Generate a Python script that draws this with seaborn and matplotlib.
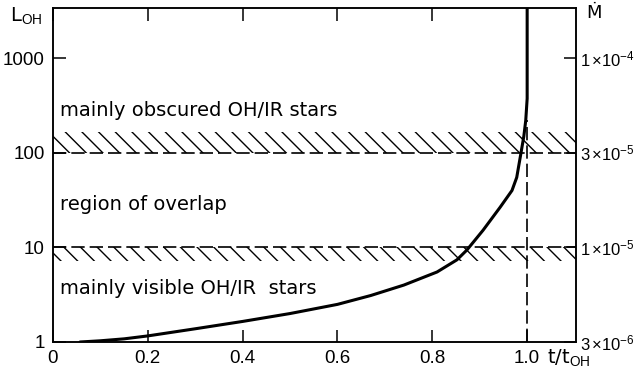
import matplotlib
matplotlib.use("Agg")
import matplotlib.pyplot as plt
import seaborn as sns

# ---- data ----
t_ratio = [0.057, 0.10, 0.15, 0.20, 0.30, 0.40, 0.50, 0.60, 0.67, 0.74, 0.81,
           0.852, 0.873, 0.907, 0.943, 0.968, 0.978, 0.987, 0.993, 0.997, 1.0, 1.0]
L_oh = [1.0, 1.03, 1.08, 1.16, 1.38, 1.65, 2.0, 2.5, 3.1, 4.0, 5.5,
        7.4, 9.4, 15.2, 26.6, 40, 55, 100, 150, 220, 375, 3400]

x_ticks = [0, 0.2, 0.4, 0.6, 0.8, 1.0]
x_labels = ["0", "0.2", "0.4", "0.6", "0.8", "1.0"]
y_ticks = [1, 10, 100, 1000]
y_labels = ["1", "10", "100", "1000"]
mdot_pos = [1, 10, 100, 1000]
mdot_labels = [r"$3\,{\times}10^{-6}$", r"$1\,{\times}10^{-5}$",
               r"$3\,{\times}10^{-5}$", r"$1\,{\times}10^{-4}$"]

upper_band = (100, 165)
lower_band = (7.2, 10)
t_end = 1.0
t_end_top = 220

region_labels = ["mainly obscured OH/IR stars", "region of overlap", "mainly visible OH/IR  stars"]
region_levels = [282, 28.6, 3.7]

xlim = (0, 1.103)
ylim = (1, 3400)

# ---- style ----
sns.set_style("ticks")
plt.rcParams["font.family"] = ["DejaVu Sans"]
plt.rcParams["hatch.linewidth"] = 1.0
plt.rcParams["mathtext.fontset"] = "custom"
plt.rcParams["mathtext.rm"] = "Liberation Sans"
plt.rcParams["mathtext.it"] = "Liberation Sans"
for k in ("text.color", "axes.labelcolor", "xtick.color", "ytick.color", "axes.edgecolor"):
    plt.rcParams[k] = "black"

fig = plt.figure(figsize=(6.35, 3.79), dpi=100)
ax = fig.add_axes([53 / 635, 37 / 379, 523 / 635, 334 / 379])

sns.lineplot(x=t_ratio, y=L_oh, ax=ax, color="black", linewidth=2.2,
             estimator=None, sort=False)

ax.set_yscale("log")
ax.set_xlim(*xlim)
ax.set_ylim(*ylim)

dash = (0, (8, 3))
for lo, hi in (upper_band, lower_band):
    ax.axhspan(lo, hi, facecolor="none", edgecolor="black", hatch="\\\\", linewidth=0)
ax.axhline(upper_band[0], color="black", lw=1.2, ls=dash)
ax.axhline(lower_band[1], color="black", lw=1.2, ls=dash)
ax.vlines(t_end, ylim[0], t_end_top, colors="black", lw=1.2, linestyles=dash)

tick_font = ["Liberation Sans", "DejaVu Sans"]
ax.set_xticks(x_ticks)
ax.set_xticklabels(x_labels, family=tick_font, fontsize=13.5)
ax.set_yticks(y_ticks)
ax.set_yticklabels(y_labels, family=tick_font, fontsize=13.5)
ax.yaxis.set_minor_locator(matplotlib.ticker.NullLocator())
ax.tick_params(direction="in", length=9, width=1.1, top=True, right=False, pad=6)

ax2 = ax.twinx()
ax2.set_yscale("log")
ax2.set_ylim(*ylim)
ax2.set_yticks(mdot_pos)
ax2.set_yticklabels(mdot_labels, fontsize=12)
ax2.yaxis.set_minor_locator(matplotlib.ticker.NullLocator())
ax2.tick_params(direction="in", length=9, width=1.1, pad=3)

for a in (ax, ax2):
    for s in a.spines.values():
        s.set_visible(True)
        s.set_linewidth(1.1)
        s.set_color("black")

ax.set_xlabel("")
ax.set_ylabel("")

trans = ax.get_yaxis_transform()
for txt, lev in zip(region_labels, region_levels):
    ax.text(0.013, lev, txt, transform=trans, va="center", ha="left", fontsize=14)

fig.text(10 / 635, 1 - 15 / 379, r"L$_{\mathrm{OH}}$", fontsize=14, va="center", ha="left")
fig.text(586 / 635, 1 - 13 / 379, "Ṁ", fontsize=13, va="center", ha="left")
fig.text(547 / 635, 1 - 358 / 379, r"t/t$_{\mathrm{OH}}$", fontsize=14, va="center", ha="left")

fig.savefig("out.png", dpi=100, facecolor="white")
